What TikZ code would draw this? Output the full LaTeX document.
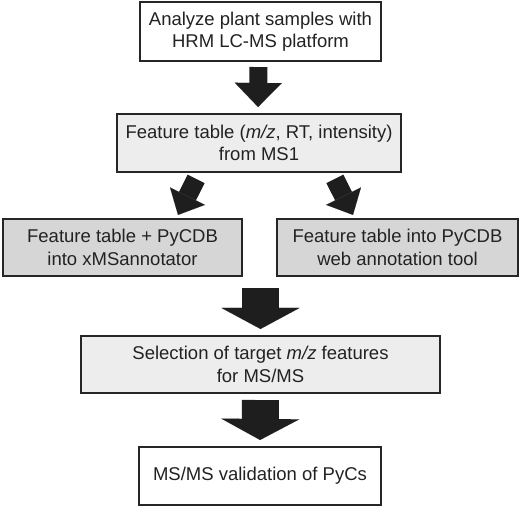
\documentclass[tikz,border=0pt]{standalone}
\usepackage{fontspec}
\setmainfont{Liberation Sans}
\usetikzlibrary{arrows.meta}
\definecolor{boxline}{HTML}{262626}
\definecolor{arrowfill}{HTML}{1E1E1E}
\definecolor{lightfill}{HTML}{EDEDED}
\definecolor{midfill}{HTML}{D6D6D6}
\definecolor{textcol}{HTML}{222222}
\begin{document}
\begin{tikzpicture}[x=1pt,y=-1pt,
  stepbox/.style={draw=boxline, line width=1.6pt, align=center, inner sep=0pt,
    text=textcol, font=\fontsize{18.5}{22.5}\selectfont},
  thinarrow/.style={draw=arrowfill, line width=18pt,
    -{Triangle[width=47pt,length=24pt,line width=0.01pt]}},
  diagarrow/.style={draw=arrowfill, line width=19pt,
    -{Triangle[width=39pt,length=21pt,line width=0.01pt]}},
  widearrow/.style={draw=arrowfill, line width=37pt,
    -{Triangle[width=78pt,length=21pt,line width=0.01pt]}}]
\useasboundingbox (0,0) rectangle (520,508);
\node[stepbox, fill=white, minimum width=241.5pt, minimum height=59.5pt] (b1) at (260.5,31.5)
  {Analyze plant samples with\\HRM LC-MS platform};
\node[stepbox, fill=lightfill, minimum width=284.5pt, minimum height=58.5pt] (b2) at (259,143)
  {Feature table (\textit{m/z}, RT, intensity)\\from MS1};
\node[stepbox, fill=midfill, minimum width=239.5pt, minimum height=57.5pt] (b3l) at (122.5,247.5)
  {Feature table + PyCDB\\into xMSannotator};
\node[stepbox, fill=midfill, minimum width=241.5pt, minimum height=57.5pt] (b3r) at (397.5,247.5)
  {Feature table into PyCDB\\web annotation tool};
\node[stepbox, fill=lightfill, minimum width=359.5pt, minimum height=57.5pt] (b4) at (260.5,364.5)
  {Selection of target \textit{m/z} features\\for MS/MS};
\node[stepbox, fill=white, minimum width=242.5pt, minimum height=58.5pt] (b5) at (260,476)
  {MS/MS validation of PyCs};
\draw[thinarrow, shorten <=5pt, shorten >=6pt] ([xshift=-2pt]b1.south) -- ([xshift=-1pt]b2.north);
\draw[diagarrow, shorten <=6.5pt, shorten >=3.4pt] ([xshift=-60pt]b2.south) -- ([xshift=54pt]b3l.north);
\draw[diagarrow, shorten <=6.5pt, shorten >=3.4pt] ([xshift=73pt]b2.south) -- ([xshift=-43pt]b3r.north);
\draw[widearrow, shorten <=11pt, shorten >=6pt] (b4.north |- b3l.south) -- (b4.north);
\draw[widearrow, shorten <=6pt, shorten >=6pt] (b4.south) -- (b5.north);
\end{tikzpicture}
\end{document}
